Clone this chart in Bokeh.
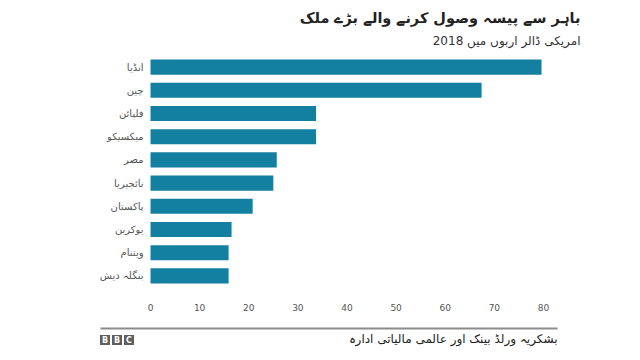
from bokeh.plotting import figure
from bokeh.models import Range1d, FactorRange, FixedTicker
from bokeh.layouts import column
from bokeh.core.properties import value
from bokeh.embed import file_html
from bokeh.resources import INLINE

countries = ["انڈیا", "چین", "فلپائن", "میکسیکو", "مصر", "نائجیریا", "پاکستان", "یوکرین", "ویتنام", "بنگلہ دیش"]
values = [79.6, 67.4, 33.7, 33.7, 25.7, 25.0, 20.8, 16.5, 15.9, 15.9]
x_ticks = [0, 10, 20, 30, 40, 50, 60, 70, 80]

title_text = "باہر سے پیسہ وصول کرنے والے بڑے ملک"
subtitle_text = "2018 امریکی ڈالر اربوں میں"
source_text = "بشکریہ ورلڈ بینک اور عالمی مالیاتی ادارہ"
logo_letters = ["B", "B", "C"]

BAR = "#1380A1"
AR_FONT = "DejaVu Sans"
W = 624
HEAD_H, MAIN_H, FOOT_H = 50, 268, 34

# horizontal layout of the value axis (pixels)
X0_PX, X80_PX = 150, 543
PX_PER_UNIT = (X80_PX - X0_PX) / 80.0


def blank(h):
    f = figure(width=W, height=h, output_backend="svg", toolbar_location=None,
               x_range=Range1d(0, W), y_range=Range1d(h, 0),
               x_axis_location=None, y_axis_location=None, min_border=0)
    f.outline_line_color = None
    f.xgrid.visible = False
    f.ygrid.visible = False
    return f


# ---- header ----
head = blank(HEAD_H)
head.text(x=[580], y=[17], text=[title_text], text_align="right", text_baseline="middle",
          text_font=value(AR_FONT), text_font_size="14.5px", text_font_style="bold", text_color="#222222")
head.text(x=[580], y=[40], text=[subtitle_text], text_align="right", text_baseline="middle",
          text_font=value(AR_FONT), text_font_size="12px", text_color="#333333")

# ---- main chart ----
p = figure(width=W, height=MAIN_H, output_backend="svg", toolbar_location=None,
           x_range=Range1d(-X0_PX / PX_PER_UNIT, (W - X0_PX) / PX_PER_UNIT),
           y_range=FactorRange(factors=list(reversed(countries))),
           y_axis_location=None, min_border=0, min_border_top=5, min_border_bottom=31)
p.outline_line_color = None
p.xgrid.visible = False
p.ygrid.visible = False
p.hbar(y=countries, right=values, left=0, height=0.65, color=BAR, line_color=None)
p.text(x=[0] * len(countries), y=countries, text=countries, x_offset=-7,
       text_align="right", text_baseline="middle", text_font=value(AR_FONT),
       text_font_size="10px", text_color="#555555")

xa = p.xaxis[0]
xa.ticker = FixedTicker(ticks=x_ticks)
xa.axis_line_color = None
xa.major_tick_line_color = None
xa.minor_tick_line_color = None
xa.major_label_standoff = 10
xa.major_label_text_font = "DejaVu Sans"
xa.major_label_text_font_size = "9px"
xa.major_label_text_color = "#555555"

# ---- footer ----
foot = blank(FOOT_H)
foot.line(x=[100, 557], y=[10, 10], line_color="#8c8c8c", line_width=2)
logo_x = [104.5, 116.5, 128.5]
foot.rect(x=logo_x, y=[21.5, 21.5, 21.5], width=10, height=10, fill_color="#5f5f5f", line_color=None)
foot.text(x=logo_x, y=[22, 22, 22], text=logo_letters, text_align="center", text_baseline="middle",
          text_font=value("DejaVu Sans"), text_font_size="8px", text_font_style="bold", text_color="white")
foot.text(x=[557], y=[20], text=[source_text], text_align="right", text_baseline="middle",
          text_font=value(AR_FONT), text_font_size="12px", text_color="#222222")

layout = column(head, p, foot, spacing=0)
open("out.html", "w").write(file_html(layout, INLINE))
